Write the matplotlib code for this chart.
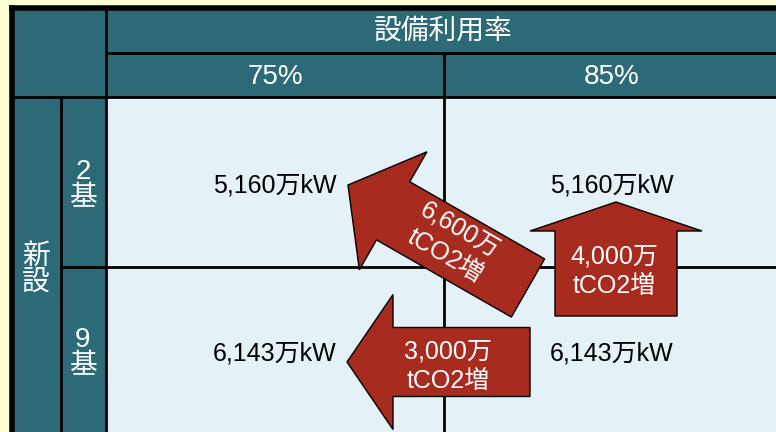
import numpy as np
import matplotlib.pyplot as plt
from matplotlib.patches import Polygon, Rectangle

plt.rcParams['font.family'] = ['Liberation Sans', 'Noto Sans CJK JP', 'DejaVu Sans']

# データ
titulo = '設備利用率'
colunas = ['75%', '85%']
grupo = '新\n設'
linhas = ['2\n基', '9\n基']
valores = [['5,160万kW', '5,160万kW'],
           ['6,143万kW', '6,143万kW']]
setas_texto = ['6,600万\ntCO2増', '4,000万\ntCO2増', '3,000万\ntCO2増']

teal = '#2d6a77'
claro = '#e4f1f6'
creme = '#ffffd4'
vermelho = '#a82b1f'


def seta(ax, cauda, ponta, larg, larg_cab, comp_cab):
    # polígono de uma seta larga, da cauda até a ponta
    cauda = np.array(cauda, float)
    ponta = np.array(ponta, float)
    d = ponta - cauda
    d /= np.hypot(*d)
    n = np.array([-d[1], d[0]])
    base = ponta - d * comp_cab
    pts = [cauda + n * larg / 2, base + n * larg / 2, base + n * larg_cab / 2,
           ponta, base - n * larg_cab / 2, base - n * larg / 2, cauda - n * larg / 2]
    ax.add_patch(Polygon(pts, closed=True, fc=vermelho, ec='black', lw=1, zorder=5))


fig = plt.figure(figsize=(7.76, 4.32), dpi=100)
fig.patch.set_facecolor(creme)
ax = fig.add_axes([0, 0, 1, 1])
ax.set_xlim(0, 776)
ax.set_ylim(432, 0)
ax.axis('off')

# grade da tabela
x0, x1, x2, x3, x4 = 12, 61, 106, 444, 790
y0, y1, y2, y3, y4 = 8, 53, 97, 267, 440
ax.add_patch(Rectangle((x0, y0), x4 - x0, y4 - y0, fc=teal, ec='none'))
ax.add_patch(Rectangle((x2, y2), x4 - x2, y4 - y2, fc=claro, ec='none'))
lk = dict(color='black', lw=2, zorder=3)
ax.plot([x0, x4], [y0, y0], color='black', lw=4, zorder=4)
ax.plot([x0, x0], [y0, y4], color='black', lw=4, zorder=4)
ax.plot([x2, x2], [y0, y4], **lk)
ax.plot([x2, x4], [y1, y1], **lk)
ax.plot([x0, x4], [y2, y2], **lk)
ax.plot([x1, x1], [y2, y4], **lk)
ax.plot([x3, x3], [y1, y4], **lk)
ax.plot([x1, x4], [y3, y3], **lk)

# cabeçalhos
ax.text(443, 32, titulo, color='white', fontsize=20, ha='center', va='center')
cx = [275, 612]
for c, t in zip(cx, colunas):
    ax.text(c, 77, t, color='white', fontsize=20, ha='center', va='center')
ax.text(36, 270, grupo, color='white', fontsize=20, ha='center', va='center',
        linespacing=1.05)
cy = [185, 353]
for c, t in zip(cy, linhas):
    ax.text(83, c, t, color='white', fontsize=20, ha='center', va='center',
            linespacing=1.0)

# valores
for i, lin in enumerate(valores):
    for j, v in enumerate(lin):
        ax.text(cx[j], cy[i], v, color='black', fontsize=18,
                ha='center', va='center')

# setas
seta(ax, (528, 288), (348, 185), 67, 136, 52)
seta(ax, (616, 316), (616, 202), 122, 172, 29)
seta(ax, (530, 362), (347, 362), 69, 135, 46)
ax.text(453, 243, setas_texto[0], color='white', fontsize=18, ha='center',
        va='center', rotation=-30, linespacing=1.3, zorder=6)
ax.text(614, 271, setas_texto[1], color='white', fontsize=18, ha='center',
        va='center', linespacing=1.3, zorder=6)
ax.text(448, 366, setas_texto[2], color='white', fontsize=18, ha='center',
        va='center', linespacing=1.3, zorder=6)

fig.savefig('out.png', dpi=100, facecolor=creme)
